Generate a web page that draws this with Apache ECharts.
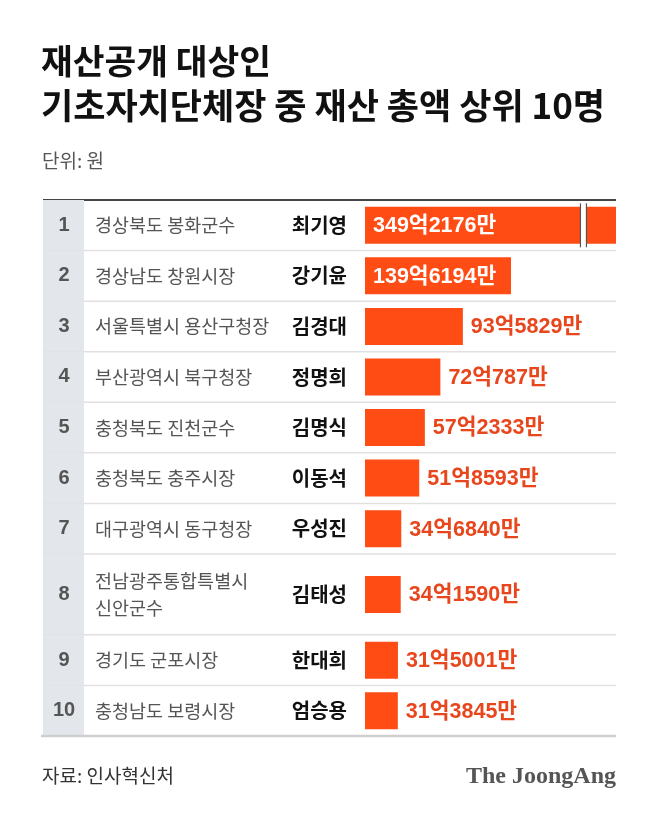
<!DOCTYPE html>
<html>
<head>
<meta charset="utf-8">
<script src="https://cdn.jsdelivr.net/npm/echarts@6/dist/echarts.min.js"></script>
<style>
html,body{margin:0;padding:0;background:#fff;}
#c{width:658px;height:814px;}
</style>
</head>
<body>
<div id="c"></div>
<script>
// ---- data ----
var ranks = ['1','2','3','4','5','6','7','8','9','10'];
var regions = ['경상북도 봉화군수','경상남도 창원시장','서울특별시 용산구청장','부산광역시 북구청장','충청북도 진천군수','충청북도 충주시장','대구광역시 동구청장','전남광주통합특별시\n신안군수','경기도 군포시장','충청남도 보령시장'];
var names = ['최기영','강기윤','김경대','정명희','김명식','이동석','우성진','김태성','한대희','엄승용'];
var values = [349.2176, 139.6194, 93.5829, 72.0787, 57.2333, 51.8593, 34.6840, 34.1590, 31.5001, 31.3845]; // 억원
var valueLabels = ['349억2176만','139억6194만','93억5829만','72억787만','57억2333만','51억8593만','34억6840만','34억1590만','31억5001만','31억3845만'];
var axisMax = 240;   // 억원, bar 1 is broken
var breakAt = 206;   // 억원, where the break gap is drawn

var titleLine1 = '재산공개 대상인';
var titleLine2 = '기초자치단체장 중 재산 총액 상위 10명';
var unitText = '단위: 원';
var sourceText = '자료: 인사혁신처';
var brandText = 'The JoongAng';

// ---- layout helpers (row units) ----
var FONT = '"Noto Sans CJK KR", "Noto Sans", sans-serif';
var NUMFONT = '"Liberation Sans", "Noto Sans CJK KR", sans-serif';
var rowUnits = regions.map(function (r) { return r.split('\n').length > 1 ? 1.6 : 1; });
var total = 0;
var rows = values.map(function (v, i) {
  var c = total + rowUnits[i] / 2;
  total += rowUnits[i];
  return [v, c, rowUnits[i], i];
});

var ORANGE = '#ff4b14';
var TABLE_L = 43, TABLE_R = 616;

function renderItem(params, api) {
  var i = params.dataIndex;
  var v = api.value(0), yc = api.value(1), h = api.value(2);
  var top = api.coord([0, yc - h / 2])[1];
  var bot = api.coord([0, yc + h / 2])[1];
  var c0 = api.coord([0, yc]);
  var x0 = c0[0], cy = c0[1];
  var xEnd = api.coord([Math.min(v, axisMax), yc])[0];
  var barH = 37;
  var kids = [];
  kids.push({type: 'rect', shape: {x: TABLE_L, y: top, width: 41, height: bot - top}, style: {fill: '#e3e6ea'}});
  if (i < values.length - 1) {
    kids.push({type: 'line', shape: {x1: TABLE_L, y1: bot, x2: TABLE_R, y2: bot}, style: {stroke: '#e1e1e1', lineWidth: 1.5}});
  } else {
    kids.push({type: 'line', shape: {x1: TABLE_L - 2, y1: bot, x2: TABLE_R, y2: bot}, style: {stroke: '#cfcfcf', lineWidth: 2.5}});
  }
  kids.push({type: 'text', style: {x: 64, y: cy, text: ranks[i], align: 'center', verticalAlign: 'middle', font: 'bold 20px ' + NUMFONT, fill: '#555'}});
  kids.push({type: 'text', style: {x: 95, y: cy, text: regions[i], align: 'left', verticalAlign: 'middle', font: '18.5px ' + FONT, fill: '#555', lineHeight: 27}});
  kids.push({type: 'text', style: {x: 347, y: cy, text: names[i], align: 'right', verticalAlign: 'middle', font: 'bold 20px ' + FONT, fill: '#111'}});
  kids.push({type: 'rect', shape: {x: x0, y: cy - barH / 2, width: xEnd - x0, height: barH}, style: {fill: ORANGE}});
  if (v > axisMax) {
    var bx = api.coord([breakAt, yc])[0];
    kids.push({type: 'rect', shape: {x: bx, y: cy - barH / 2 - 1, width: 6, height: barH + 2}, style: {fill: '#fff'}});
    kids.push({type: 'line', shape: {x1: bx, y1: cy - 22, x2: bx, y2: cy + 22}, style: {stroke: '#555', lineWidth: 1.2}});
    kids.push({type: 'line', shape: {x1: bx + 6, y1: cy - 22, x2: bx + 6, y2: cy + 22}, style: {stroke: '#555', lineWidth: 1.2}});
  }
  var inside = (xEnd - x0) > 140;
  kids.push({type: 'text', style: {
    x: inside ? x0 + 8 : xEnd + 8, y: cy + 1, text: valueLabels[i],
    align: 'left', verticalAlign: 'middle', font: 'bold 21.5px ' + NUMFONT,
    fill: inside ? '#fff' : '#e8461c'}});
  return {type: 'group', children: kids};
}

var chart = echarts.init(document.getElementById('c'), null, {renderer: 'canvas'});
chart.setOption({
  animation: false,
  backgroundColor: '#fff',
  grid: {left: 365, right: 658 - TABLE_R, top: 200, bottom: 814 - 736},
  xAxis: {type: 'value', min: 0, max: axisMax, show: false},
  yAxis: {type: 'value', min: 0, max: total, inverse: true, show: false},
  graphic: [
    {type: 'text', x: 41, y: 61, style: {text: titleLine1, font: 'bold 34.5px ' + FONT, fill: '#111', verticalAlign: 'middle'}},
    {type: 'text', x: 41, y: 106, style: {text: titleLine2, font: 'bold 35px ' + FONT, fill: '#111', verticalAlign: 'middle'}},
    {type: 'text', x: 42, y: 161, style: {text: unitText, font: '19px ' + FONT, fill: '#555', verticalAlign: 'middle'}},
    {type: 'line', shape: {x1: TABLE_L, y1: 200, x2: TABLE_R, y2: 200}, style: {stroke: '#444', lineWidth: 2}},
    {type: 'text', x: 42, y: 776, style: {text: sourceText, font: '19px ' + FONT, fill: '#333', verticalAlign: 'middle'}},
    {type: 'text', x: 616, y: 777, style: {text: brandText, font: 'bold 24px "Liberation Serif", "DejaVu Serif", serif', fill: '#555', align: 'right', verticalAlign: 'middle'}}
  ],
  series: [{
    type: 'custom',
    coordinateSystem: 'cartesian2d',
    clip: false,
    renderItem: renderItem,
    data: rows
  }]
});
</script>
</body>
</html>
